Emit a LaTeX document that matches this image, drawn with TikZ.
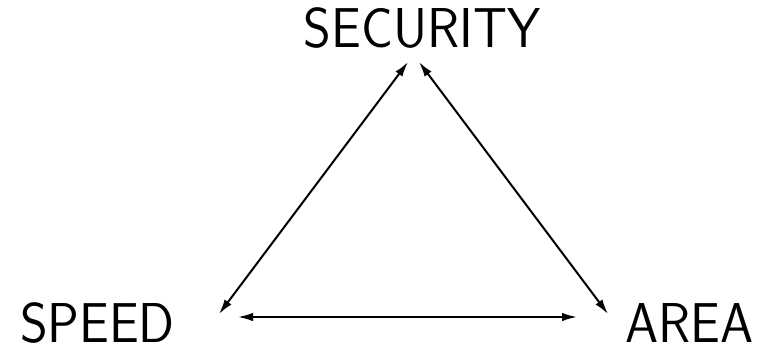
\documentclass[tikz,border=0pt]{standalone}
\usetikzlibrary{arrows.meta}
\tikzset{
  corner/.style={font=\sffamily\fontsize{53}{63}\selectfont, anchor=base, inner sep=0pt, yscale=1.06, transform shape},
  tradeoff/.style={{Latex[length=15pt,width=8.5pt]}-{Latex[length=15pt,width=8.5pt]}, line width=2pt}
}
\begin{document}
\begin{tikzpicture}[x=1pt,y=1pt]
    \useasboundingbox (0,0) rectangle (759,349);
    \node[corner] (security) at (422,301.5) {SECURITY};
    \node[corner] (speed) at (97.5,6.5) {SPEED};
    \node[corner] (area) at (689.5,6.5) {AREA};
    % sides of the triangle
    \draw[tradeoff]([xshift=-14pt,yshift=-14.5pt]security.base)--([xshift=121.5pt,yshift=28.5pt]speed.base);
    \draw[tradeoff]([xshift=-3pt,yshift=-14.5pt]security.base)--([xshift=-81.5pt,yshift=28.5pt]area.base);
    \draw[tradeoff]([xshift=140.5pt,yshift=25.5pt]speed.base)--([xshift=-112.5pt,yshift=25.5pt]area.base);
\end{tikzpicture}
\end{document}
